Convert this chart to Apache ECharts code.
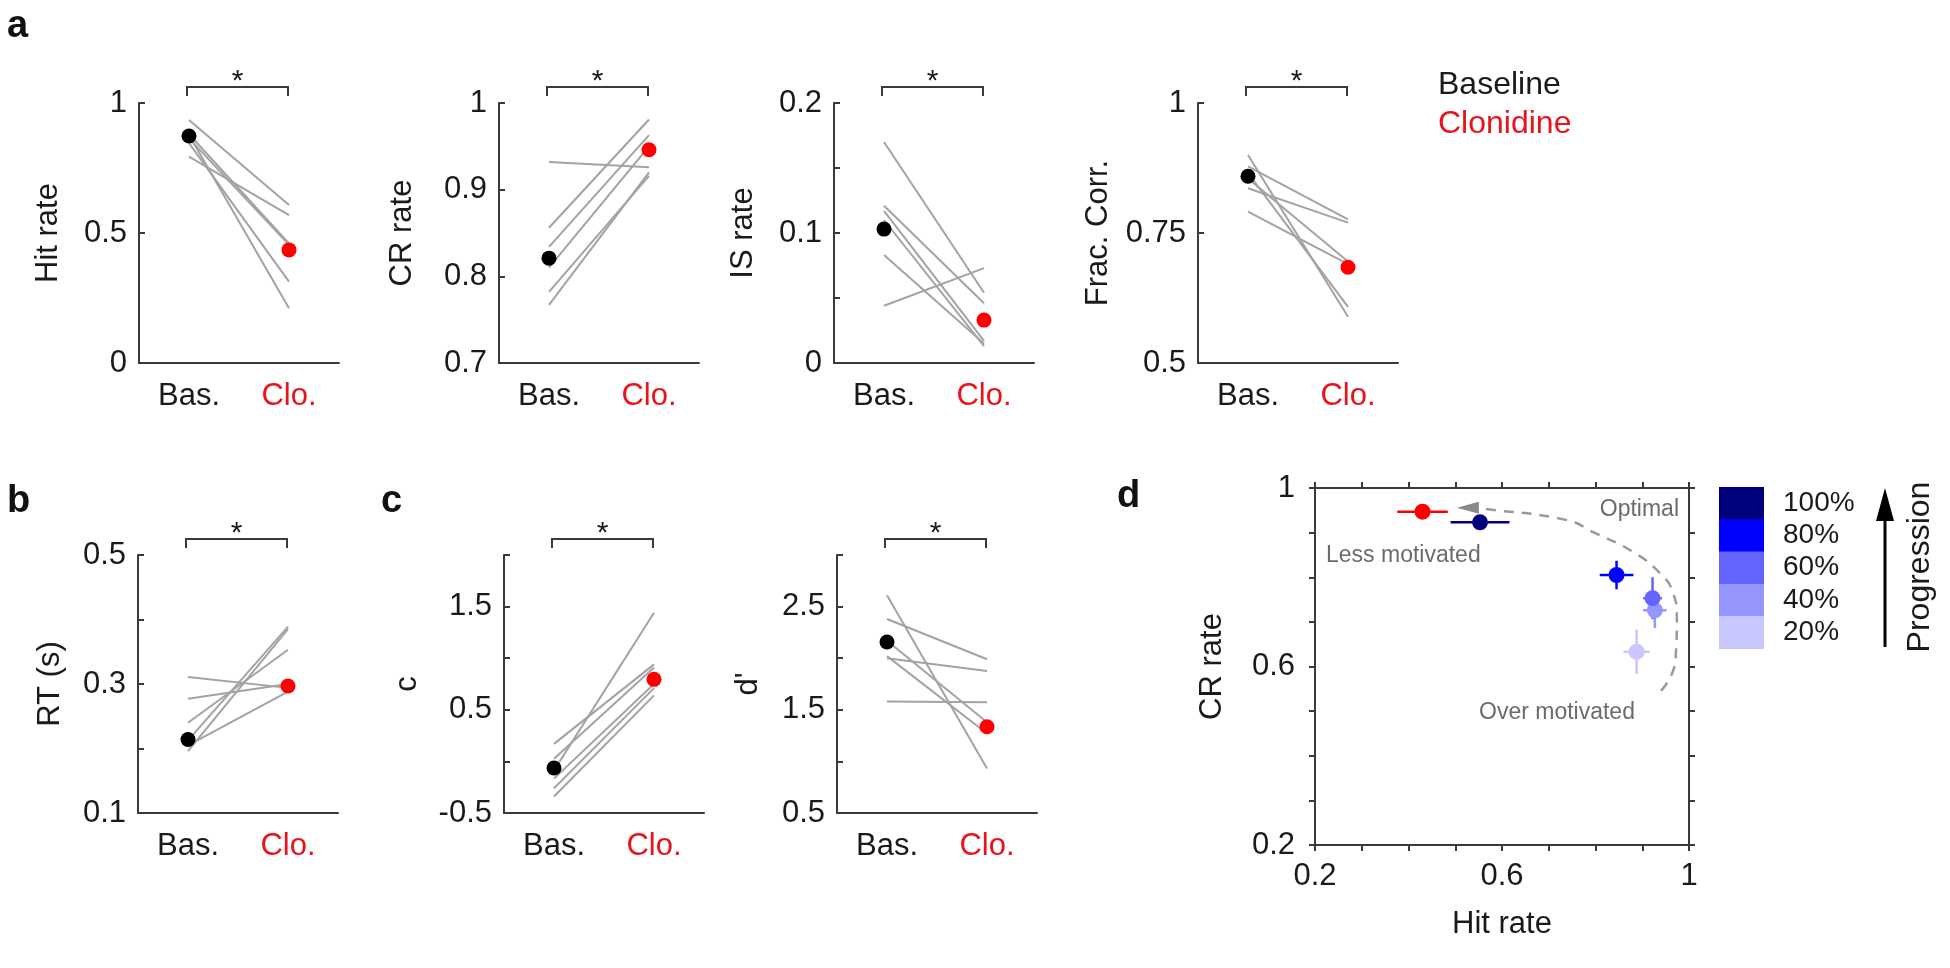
<!DOCTYPE html>
<html><head><meta charset="utf-8">
<script src="https://cdn.jsdelivr.net/npm/echarts@6/dist/echarts.min.js"></script>
<style>html,body{margin:0;padding:0;background:#fff;}#c{width:1950px;height:968px;}</style>
</head><body><div id="c"></div>
<script>
// ---------------- data ----------------
const conditions = ['Bas.', 'Clo.'];

const hitBas = [0.935, 0.877, 0.88, 0.864, 0.846, 0.794];
const hitClo = [0.608, 0.211, 0.46, 0.455, 0.313, 0.569];
const hitMean = [0.873, 0.435];
const hitTicks = [0, 0.5, 1];

const crBas = [0.932, 0.856, 0.834, 0.81, 0.782, 0.767];
const crClo = [0.926, 0.981, 0.963, 0.95, 0.916, 0.92];
const crMean = [0.821, 0.946];
const crTicks = [0.7, 0.8, 0.9, 1];

const isBas = [0.170, 0.121, 0.117, 0.11, 0.083, 0.044];
const isClo = [0.054, 0.046, 0.017, 0.013, 0.015, 0.073];
const isMean = [0.103, 0.033];
const isTicks = [0, 0.1, 0.2];

const fcBas = [0.900, 0.878, 0.865, 0.855, 0.836, 0.791];
const fcClo = [0.589, 0.776, 0.608, 0.695, 0.770, 0.690];
const fcMean = [0.859, 0.684];
const fcTicks = [0.5, 0.75, 1];

const rtBas = [0.311, 0.277, 0.240, 0.2125, 0.196, 0.205];
const rtClo = [0.294, 0.300, 0.353, 0.389, 0.385, 0.288];
const rtMean = [0.214, 0.297];
const rtTicks = [0.1, 0.3, 0.5];

const cBas = [-0.087, 0.17, 0.026, -0.167, -0.26, -0.34];
const cClo = [1.44, 0.94, 0.91, 0.75, 0.71, 0.64];
const cMean = [-0.064, 0.795];
const cTicks = [-0.5, 0.5, 1.5];

const dpBas = [2.61, 2.38, 2.00, 1.58, 2.17, 2.02];
const dpClo = [0.93, 1.99, 1.875, 1.574, 1.38, 1.27];
const dpMean = [2.157, 1.336];
const dpTicks = [0.5, 1.5, 2.5];

// panel d: [hit rate, CR rate, hit err, CR err]
const stageLabels = ['100%', '80%', '60%', '40%', '20%'];
const stagePoints = [
  [0.553, 0.923, 0.063, 0.005],
  [0.845, 0.805, 0.036, 0.032],
  [0.922, 0.753, 0.020, 0.047],
  [0.927, 0.726, 0.025, 0.040],
  [0.888, 0.633, 0.028, 0.050]
];
const clonidinePoint = [0.430, 0.947, 0.054, 0.005];
const optimalCurve = [[0.527, 0.956], [0.564, 0.953], [0.739, 0.928], [0.795, 0.901], [0.880, 0.857],
  [0.938, 0.809], [0.966, 0.765], [0.974, 0.711], [0.972, 0.630], [0.964, 0.585], [0.940, 0.545]];
const dTicks = [0.2, 0.6, 1];

// ---------------- style / layout ----------------
const FONT = "'Liberation Sans', Arial, Helvetica, sans-serif";
const AX = '#3a3a3a';
const TXT = '#1a1a1a';
const RED = '#ff0000';
const REDTXT = '#e8141b';
const stageColors = ['#00007a', '#0000ff', '#6464ff', '#9696ff', '#c8c8ff'];

const layout = [
  {left: 139, top: 103, width: 200, height: 260},
  {left: 499, top: 103, width: 200, height: 260},
  {left: 834, top: 103, width: 200, height: 260},
  {left: 1198, top: 103, width: 200, height: 260},
  {left: 138, top: 555, width: 200, height: 258},
  {left: 504, top: 555, width: 200, height: 258},
  {left: 837, top: 555, width: 200, height: 258},
  {left: 1315, top: 488, width: 374, height: 357}
];

const pairPlots = [
  {name: 'Hit rate', bas: hitBas, clo: hitClo, mean: hitMean, ticks: hitTicks, min: 0, max: 1, interval: 0.5, gap: 75},
  {name: 'CR rate', bas: crBas, clo: crClo, mean: crMean, ticks: crTicks, min: 0.7, max: 1, interval: 0.1, gap: 81},
  {name: 'IS rate', bas: isBas, clo: isClo, mean: isMean, ticks: isTicks, min: 0, max: 0.2, interval: 0.05, gap: 75},
  {name: 'Frac. Corr.', bas: fcBas, clo: fcClo, mean: fcMean, ticks: fcTicks, min: 0.5, max: 1, interval: 0.25, gap: 84},
  {name: 'RT (s)', bas: rtBas, clo: rtClo, mean: rtMean, ticks: rtTicks, min: 0.1, max: 0.5, interval: 0.1, gap: 72},
  {name: 'c', bas: cBas, clo: cClo, mean: cMean, ticks: cTicks, min: -0.5, max: 2, interval: 0.5, gap: 81},
  {name: "d'", bas: dpBas, clo: dpClo, mean: dpMean, ticks: dpTicks, min: 0.5, max: 3, interval: 0.5, gap: 73}
];

function labelFor(v, ticks) {
  for (const t of ticks) if (Math.abs(t - v) < 1e-6) return String(t);
  return '';
}

const chart = echarts.init(document.getElementById('c'));
const grids = layout.map(g => ({left: g.left, top: g.top, width: g.width, height: g.height}));
const xAxes = [], yAxes = [], series = [];

pairPlots.forEach((p, k) => {
  xAxes.push({
    type: 'category', gridIndex: k, boundaryGap: true,
    data: [{value: conditions[0], textStyle: {color: TXT}}, {value: conditions[1], textStyle: {color: REDTXT}}],
    axisLine: {onZero: false, lineStyle: {color: AX, width: 2}},
    axisTick: {show: false},
    axisLabel: {fontSize: 31, fontFamily: FONT, margin: 18, interval: 0},
    splitLine: {show: false}
  });
  yAxes.push({
    type: 'value', gridIndex: k, min: p.min, max: p.max, interval: p.interval,
    name: p.name, nameLocation: 'middle', nameGap: p.gap,
    nameTextStyle: {fontSize: 31, color: TXT, fontFamily: FONT},
    axisLine: {show: true, onZero: false, lineStyle: {color: AX, width: 2}},
    axisTick: {show: true, inside: true, length: 6, lineStyle: {color: AX, width: 2}},
    axisLabel: {fontSize: 31, color: TXT, fontFamily: FONT, margin: 12, formatter: v => labelFor(v, p.ticks)},
    splitLine: {show: false}
  });
  p.bas.forEach((b, i) => series.push({
    type: 'line', xAxisIndex: k, yAxisIndex: k, data: [b, p.clo[i]], symbol: 'none',
    lineStyle: {color: '#a3a3a3', width: 2}, silent: true, z: 2
  }));
  series.push({type: 'scatter', xAxisIndex: k, yAxisIndex: k, data: [[0, p.mean[0]]], symbolSize: 15,
    itemStyle: {color: '#000', opacity: 1}, z: 5});
  series.push({type: 'scatter', xAxisIndex: k, yAxisIndex: k, data: [[1, p.mean[1]]], symbolSize: 15,
    itemStyle: {color: RED, opacity: 1}, z: 5});
});

// panel d axes
const dAxisBase = {
  type: 'value', gridIndex: 7, min: 0.2, max: 1, interval: 0.1,
  axisLine: {show: true, onZero: false, lineStyle: {color: AX, width: 2}},
  axisTick: {show: true, inside: false, length: 6, lineStyle: {color: AX, width: 2}},
  splitLine: {show: false}
};
xAxes.push(Object.assign({}, dAxisBase, {
  position: 'bottom', name: 'Hit rate', nameLocation: 'middle', nameGap: 64,
  nameTextStyle: {fontSize: 31, color: TXT, fontFamily: FONT},
  axisLabel: {fontSize: 31, color: TXT, fontFamily: FONT, margin: 16, formatter: v => labelFor(v, dTicks)}
}));
xAxes.push(Object.assign({}, dAxisBase, {position: 'top', axisLabel: {show: false}}));
yAxes.push(Object.assign({}, dAxisBase, {
  position: 'left', name: 'CR rate', nameLocation: 'middle', nameGap: 87,
  nameTextStyle: {fontSize: 31, color: TXT, fontFamily: FONT},
  axisLabel: {fontSize: 31, color: TXT, fontFamily: FONT, margin: 20, formatter: v => labelFor(v, dTicks)}
}));
yAxes.push(Object.assign({}, dAxisBase, {position: 'right', axisLabel: {show: false}}));

// optimal curve (dashed) + arrow head
series.push({
  type: 'line', xAxisIndex: 7, yAxisIndex: 7, data: optimalCurve, smooth: true, symbol: 'none',
  lineStyle: {color: '#9a9a9a', width: 2.5, type: [10, 8]}, silent: true, z: 2
});
series.push({
  type: 'scatter', xAxisIndex: 7, yAxisIndex: 7, data: [optimalCurve[0]], symbol: 'triangle',
  symbolSize: [12, 22], symbolRotate: 90, itemStyle: {color: '#8a8a8a', opacity: 1}, silent: true, z: 3
});

function errBarSeries(pt, color) {
  return {
    type: 'custom', coordinateSystem: 'cartesian2d', xAxisIndex: 7, yAxisIndex: 7,
    data: [pt], encode: {x: 0, y: 1}, z: 4, silent: true,
    renderItem: function (params, api) {
      const x = api.value(0), y = api.value(1), ex = api.value(2), ey = api.value(3);
      const a = api.coord([x - ex, y]), b = api.coord([x + ex, y]);
      const c = api.coord([x, y - ey]), d = api.coord([x, y + ey]);
      const st = {stroke: color, lineWidth: 2.5};
      return {type: 'group', children: [
        {type: 'line', shape: {x1: a[0], y1: a[1], x2: b[0], y2: b[1]}, style: st},
        {type: 'line', shape: {x1: c[0], y1: c[1], x2: d[0], y2: d[1]}, style: st}
      ]};
    }
  };
}
for (let i = stagePoints.length - 1; i >= 0; i--) {
  series.push(errBarSeries(stagePoints[i], stageColors[i]));
  series.push({type: 'scatter', xAxisIndex: 7, yAxisIndex: 7, data: [[stagePoints[i][0], stagePoints[i][1]]],
    symbolSize: 16, itemStyle: {color: stageColors[i], opacity: 1}, z: 5});
}
series.push(errBarSeries(clonidinePoint, RED));
series.push({type: 'scatter', xAxisIndex: 7, yAxisIndex: 7, data: [[clonidinePoint[0], clonidinePoint[1]]],
  symbolSize: 16, itemStyle: {color: RED, opacity: 1}, z: 6});

// ---------------- annotations ----------------
const graphic = [];
function txt(x, y, s, size, color, opts) {
  graphic.push(Object.assign({type: 'text', x: x, y: y, silent: true,
    style: Object.assign({text: s, fontSize: size, fontFamily: FONT, fill: color, align: 'left', verticalAlign: 'middle'}, (opts && opts.style) || {})},
    (opts && opts.el) || {}));
}
// panel letters
[['a', 7, 27], ['b', 7, 502], ['c', 381, 502], ['d', 1117, 497]].forEach(l =>
  txt(l[1], l[2], l[0], 38, '#111', {style: {fontWeight: 'bold'}}));
// significance brackets
for (let k = 0; k < pairPlots.length; k++) {
  const L = layout[k];
  const x1 = L.left + L.width * 0.25 - 2, x2 = L.left + L.width * 0.75 - 1;
  const yT = L.top - 16;
  graphic.push({type: 'polyline', silent: true, shape: {points: [[x1, yT + 9], [x1, yT], [x2, yT], [x2, yT + 9]]},
    style: {stroke: AX, lineWidth: 2, fill: null}});
  txt((x1 + x2) / 2, L.top - 21, '*', 30, TXT, {style: {align: 'center'}});
}
// legend top right
txt(1438, 85, 'Baseline', 32, TXT);
txt(1438, 124, 'Clonidine', 32, REDTXT);
// panel d texts
txt(1326, 556, 'Less motivated', 23, '#6b6b6b');
txt(1679, 510, 'Optimal', 23, '#6b6b6b', {style: {align: 'right'}});
txt(1479, 713, 'Over motivated', 23, '#6b6b6b');
// colour legend
const legTop = 487, legH = 32.3;
stageLabels.forEach((s, i) => {
  graphic.push({type: 'rect', silent: true, shape: {x: 1719, y: legTop + i * legH, width: 45, height: legH + 0.6},
    style: {fill: stageColors[i]}});
  txt(1783, legTop + (i + 0.5) * legH, s, 28, TXT);
});
// progression arrow
graphic.push({type: 'line', silent: true, shape: {x1: 1885, y1: 647, x2: 1885, y2: 515}, style: {stroke: '#000', lineWidth: 3}});
graphic.push({type: 'polygon', silent: true, shape: {points: [[1885, 488], [1876, 521], [1894, 521]]}, style: {fill: '#000'}});
txt(1920, 567, 'Progression', 32, TXT, {style: {align: 'center'}, el: {rotation: Math.PI / 2}});

chart.setOption({
  animation: false,
  backgroundColor: '#fff',
  textStyle: {fontFamily: FONT},
  grid: grids,
  xAxis: xAxes,
  yAxis: yAxes,
  series: series,
  graphic: graphic
});
</script></body></html>
